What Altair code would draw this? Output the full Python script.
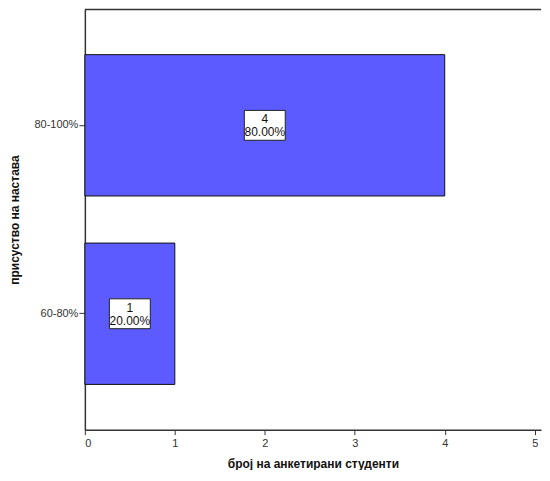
import altair as alt
import pandas as pd

categories = ["80-100%", "60-80%"]
counts = [4, 1]
percents = ["80.00%", "20.00%"]

df = pd.DataFrame({"cat": categories, "count": counts, "pct": percents})
df["label"] = df["count"].astype(str) + "\n" + df["pct"]

W = 457
H = 421
XMAX = 5.07

x_scale = alt.Scale(domain=[0, XMAX], nice=False, zero=True)
y_scale = alt.Scale(domain=categories, paddingInner=0.25, paddingOuter=0.24)

base = alt.Chart(df)

bars = base.mark_bar(color="#5b5bff", stroke="#111111", strokeWidth=1).encode(
    x=alt.X("count:Q", scale=x_scale,
            axis=alt.Axis(values=[0, 1, 2, 3, 4, 5], format="d", grid=False,
                          title="број на анкетирани студенти", titlePadding=10,
                          labelPadding=3, tickSize=5)),
    y=alt.Y("cat:N", scale=y_scale, sort=categories,
            axis=alt.Axis(title="присуство на настава", titlePadding=12,
                          labelPadding=1, tickSize=6, grid=False)),
)

boxes = base.transform_calculate(half="datum.count / 2").mark_point(
    shape="M-1,-0.73L1,-0.73L1,0.73L-1,0.73Z", size=1681, filled=True,
    fill="white", stroke="#222222", strokeWidth=1, opacity=1
).encode(
    x=alt.X("half:Q", scale=x_scale),
    y=alt.Y("cat:N", scale=y_scale, sort=categories),
)

texts = base.transform_calculate(half="datum.count / 2").mark_text(
    lineBreak="\n", fontSize=12, font="Liberation Sans", color="#111111",
    baseline="middle", lineHeight=13, dy=-6
).encode(
    x=alt.X("half:Q", scale=x_scale),
    y=alt.Y("cat:N", scale=y_scale, sort=categories),
    text="label:N",
)

top_line = alt.Chart(pd.DataFrame({"a": [0]})).mark_rule(color="#333333", strokeWidth=1.5).encode(
    x=alt.value(0), x2=alt.value(W), y=alt.value(0)
)

chart = alt.layer(bars, boxes, texts, top_line).properties(
    width=W, height=H, padding={"left": 0, "top": 0, "right": 0, "bottom": 0}
).configure_view(stroke=None).configure_axis(
    domainColor="#333333", domainWidth=1.5, tickColor="#333333",
    labelColor="#333333", labelFont="Liberation Sans", labelFontSize=11,
    titleFont="Liberation Sans", titleFontSize=12, titleFontWeight="bold",
    titleColor="#111111"
)

chart.save("out.html", embed_options={"renderer": "svg", "actions": False})
